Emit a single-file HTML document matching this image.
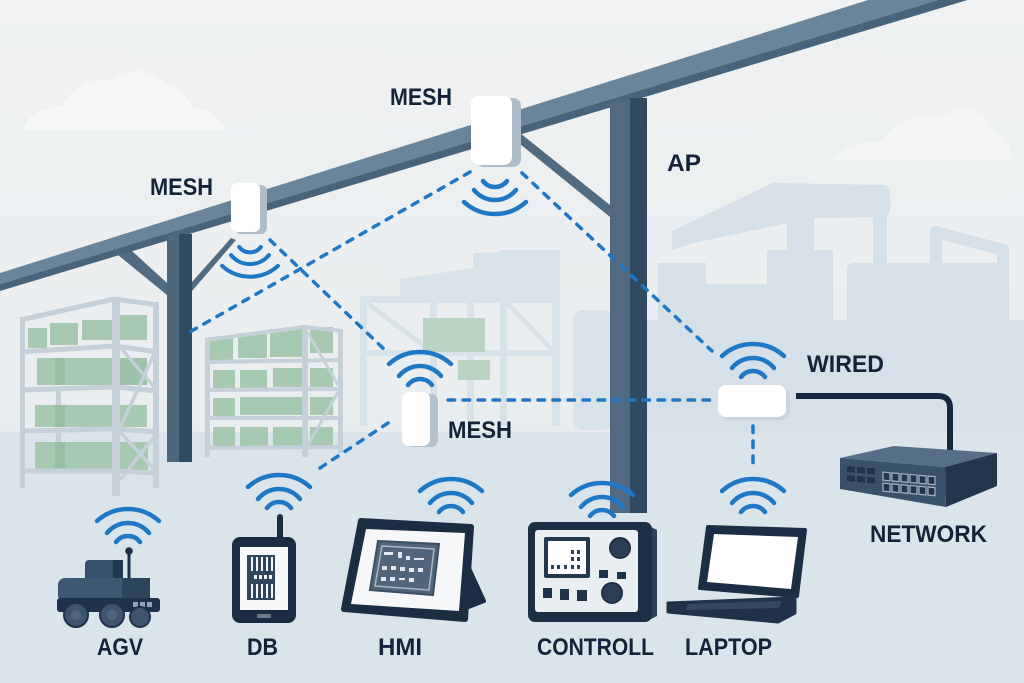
<!DOCTYPE html>
<html><head><meta charset="utf-8"><style>
html,body{margin:0;padding:0;background:#eef0f1;overflow:hidden;}
svg{display:block;}
text{font-family:"Liberation Sans",Arial,sans-serif;font-weight:bold;fill:#13243a;font-size:24px;}
</style></head><body>
<svg width="1024" height="683" viewBox="0 0 1024 683" xmlns="http://www.w3.org/2000/svg">
<defs>
<linearGradient id="bg" x1="0" y1="0" x2="0" y2="1">
 <stop offset="0" stop-color="#eff1f2"/>
 <stop offset="0.55" stop-color="#eaeef0"/>
 <stop offset="1" stop-color="#dde6ec"/>
</linearGradient>
<linearGradient id="fl" x1="0" y1="0" x2="0" y2="1">
 <stop offset="0" stop-color="#dbe4eb"/>
 <stop offset="1" stop-color="#d9e4eb"/>
</linearGradient>
<g id="wu" fill="none" stroke="#1e78c6" stroke-width="4.5" stroke-linecap="round">
 <path d="M-31,14 A46,46 0 0 1 31,14"/>
 <path d="M-21,26 A27,27 0 0 1 21,26"/>
 <path d="M-12,35 A15,15 0 0 1 12,35"/>
</g>
<g id="wd" fill="none" stroke="#1e78c6" stroke-width="4.5" stroke-linecap="round">
 <path d="M-12,0 A15,15 0 0 0 12,0"/>
 <path d="M-21,9 A27,27 0 0 0 21,9"/>
 <path d="M-31,21 A46,46 0 0 0 31,21"/>
</g>
</defs>

<!-- background -->
<rect width="1024" height="683" fill="url(#bg)"/>
<!-- clouds -->
<path d="M23,130 Q28,110 62,106 Q78,76 112,80 Q140,60 166,84 Q186,90 192,108 Q212,106 227,130 Z" fill="#f5f6f7"/>
<path d="M833,160 Q850,140 880,142 Q902,112 940,118 Q975,96 992,128 Q1008,134 1013,160 Z" fill="#f3f4f5"/>

<!-- right factory silhouette -->
<g fill="#d6e0e8">
 <path d="M672,250 L672,231 L773,183 L886,185 Q892,190 890,210 L887,217 L813,218 L693,243 Z"/>
 <rect x="787" y="210" width="27" height="140"/>
 <rect x="873" y="198" width="14" height="72"/>
 <rect x="658" y="263" width="48" height="180"/>
 <rect x="700" y="284" width="70" height="160"/>
 <rect x="767" y="250" width="66" height="190"/>
 <rect x="847" y="263" width="160" height="180" rx="6"/>
 <rect x="640" y="320" width="384" height="130"/>
</g>
<path d="M936,300 V232 L1003,250 V340" fill="none" stroke="#d6e0e8" stroke-width="12" stroke-linejoin="round"/>

<!-- middle far structure -->
<g fill="#d8e2e9">
 <path d="M400,279 L473,268 L473,253 L517,252 L520,266 L560,266 L560,302 L400,302 Z"/>
 <rect x="360" y="296" width="7" height="130"/>
 <rect x="430" y="296" width="7" height="130"/>
 <rect x="467" y="296" width="7" height="130"/>
 <rect x="500" y="296" width="7" height="130"/>
 <rect x="552" y="296" width="8" height="130"/>
 <rect x="360" y="296" width="200" height="7"/>
 <rect x="360" y="350" width="200" height="6"/>
 <rect x="573" y="310" width="40" height="120" rx="10"/>
 <rect x="500" y="250" width="60" height="20"/>
</g>
<g stroke="#d8e2e9" stroke-width="5">
 <line x1="367" y1="303" x2="430" y2="350"/>
 <line x1="507" y1="303" x2="552" y2="350"/>
</g>
<g fill="#b9d4c3">
 <rect x="423" y="318" width="62" height="34"/>
 <rect x="458" y="360" width="32" height="20"/>
</g>

<!-- floor -->
<rect x="0" y="432" width="1024" height="251" fill="url(#fl)"/>

<!-- left shelf -->
<g>
 <g fill="#a7c9b2">
  <rect x="28" y="328" width="19" height="20"/>
  <rect x="50" y="323" width="28" height="22"/>
  <rect x="82" y="320" width="30" height="20"/>
  <rect x="120" y="315" width="27" height="25"/>
  <rect x="37" y="358" width="110" height="27"/>
  <rect x="35" y="405" width="112" height="22"/>
  <rect x="35" y="442" width="113" height="30"/>
 </g>
 <g fill="#97bea3">
  <rect x="55" y="358" width="10" height="27"/>
  <rect x="55" y="405" width="10" height="22"/>
  <rect x="55" y="442" width="10" height="30"/>
  <rect x="120" y="358" width="27" height="27" opacity="0.6"/>
 </g>
 <g fill="#c6d0d9">
  <rect x="20" y="318" width="5" height="170"/>
  <rect x="112" y="297" width="8" height="199"/>
  <rect x="153" y="302" width="6" height="186"/>
 </g>
 <g stroke="#c6d0d9" stroke-width="5" fill="none">
  <path d="M20,320 L114,299 L158,305"/>
  <path d="M20,352 L114,346 L158,352"/>
  <path d="M20,390 L114,387 L158,391"/>
  <path d="M20,431 L114,429 L158,432"/>
  <path d="M20,471 L114,471 L158,473"/>
  <path d="M120,347 L155,388 M155,352 L120,428 M120,432 L155,470 M155,436 L120,480" stroke-width="3.5"/>
 </g>
 <g fill="#c6d0d9">
  <rect x="56" y="390" width="5" height="15"/>
  <rect x="56" y="430" width="5" height="12"/>
 </g>
</g>

<!-- middle shelf -->
<g>
 <g fill="#a7c9b2">
  <rect x="210" y="337" width="23" height="23"/>
  <rect x="238" y="333" width="29" height="25"/>
  <rect x="270" y="329" width="32" height="28"/>
  <rect x="310" y="327" width="23" height="26"/>
  <rect x="213" y="370" width="22" height="18"/>
  <rect x="240" y="370" width="27" height="18"/>
  <rect x="273" y="368" width="29" height="19"/>
  <rect x="310" y="368" width="23" height="19"/>
  <rect x="213" y="398" width="22" height="19"/>
  <rect x="240" y="397" width="62" height="18"/>
  <rect x="310" y="397" width="23" height="18"/>
  <rect x="213" y="427" width="22" height="20"/>
  <rect x="240" y="427" width="28" height="20"/>
  <rect x="273" y="427" width="29" height="20"/>
  <rect x="310" y="427" width="23" height="20"/>
 </g>
 <g fill="#c6d0d9">
  <rect x="205" y="339" width="5" height="118"/>
  <rect x="302" y="327" width="6" height="130"/>
  <rect x="338" y="330" width="5" height="123"/>
 </g>
 <g stroke="#c6d0d9" stroke-width="4" fill="none">
  <path d="M205,340 L304,327 L343,331"/>
  <path d="M205,362 L343,360"/>
  <path d="M205,390 L343,389"/>
  <path d="M205,418 L343,418"/>
  <path d="M205,448 L343,447"/>
  <path d="M308,333 L338,385 M338,392 L308,445" stroke-width="3"/>
 </g>
</g>

<!-- beam -->
<polygon points="0,273 1024,-49 1024,-26 0,284" fill="#6a8599"/>
<polygon points="0,284 1024,-26 1024,-17 0,291" fill="#48637a"/>

<!-- left column + braces -->
<polygon points="118,255 132,251 167,283 167,295" fill="#516b80"/>
<polygon points="192,282 231,238 236,240 192,291" fill="#516b80"/>
<rect x="167" y="234" width="12" height="228" fill="#4d677d"/>
<rect x="179" y="234" width="13" height="228" fill="#2f4a61"/>

<!-- middle column + brace -->
<polygon points="520,133 610,205 610,217 520,144" fill="#516b80"/>
<rect x="610" y="102" width="20" height="411" fill="#52697f"/>
<rect x="630" y="98" width="17" height="415" fill="#2f4a61"/>

<!-- dashed links -->
<g stroke="#1f78c6" stroke-width="3.5" stroke-linecap="round" stroke-dasharray="6.5 8.5" fill="none">
 <line x1="470" y1="172" x2="188" y2="333"/>
 <line x1="270" y1="240" x2="386" y2="351"/>
 <line x1="522" y1="173" x2="712" y2="351"/>
 <line x1="448" y1="400" x2="712" y2="400"/>
 <line x1="388" y1="423" x2="317" y2="470"/>
 <line x1="753" y1="426" x2="753" y2="468"/>
</g>

<!-- mesh devices -->
<rect x="235" y="185" width="32" height="49" rx="6" fill="#aebdca"/>
<rect x="231" y="183" width="29" height="49" rx="6" fill="#ffffff"/>
<rect x="476" y="98" width="45" height="69" rx="8" fill="#aebdca"/>
<rect x="471" y="96" width="41" height="69" rx="8" fill="#ffffff"/>
<rect x="405" y="394" width="33" height="53" rx="7" fill="#b4c2ce"/>
<rect x="402" y="392" width="28" height="54" rx="7" fill="#ffffff"/>
<rect x="721" y="388" width="69" height="32" rx="8" fill="#c9d4dd"/>
<rect x="718" y="385" width="68" height="32" rx="8" fill="#ffffff"/>

<!-- cable -->
<path d="M796,396 H938 Q950,396 950,408 V452" fill="none" stroke="#15283d" stroke-width="6"/>

<!-- switch -->
<polygon points="840,458 894,446 997,453 945,467" fill="#566f86"/>
<polygon points="840,458 945,467 946,507 840,489" fill="#3a5269"/>
<polygon points="945,467 997,453 997,486 946,507" fill="#22374c"/>
<g transform="translate(847,466) skewY(5)" >
 <g fill="#1f3247">
  <rect x="0" y="0" width="8" height="6"/><rect x="10" y="0" width="8" height="6"/><rect x="20" y="0" width="8" height="6"/>
  <rect x="0" y="9" width="8" height="6"/><rect x="10" y="9" width="8" height="6"/><rect x="20" y="9" width="8" height="6"/>
 </g>
 <g fill="#22364b" stroke="#a5b5c4" stroke-width="1.2">
  <rect x="36" y="3" width="7" height="8"/><rect x="45" y="3" width="7" height="8"/><rect x="54" y="3" width="7" height="8"/><rect x="63" y="3" width="7" height="8"/><rect x="72" y="3" width="7" height="8"/><rect x="81" y="3" width="7" height="8"/>
  <rect x="36" y="14" width="7" height="8"/><rect x="45" y="14" width="7" height="8"/><rect x="54" y="14" width="7" height="8"/><rect x="63" y="14" width="7" height="8"/><rect x="72" y="14" width="7" height="8"/><rect x="81" y="14" width="7" height="8"/>
 </g>
</g>

<!-- wifi icons -->
<use href="#wd" transform="translate(250,247) scale(0.9)"/>
<use href="#wd" transform="translate(495,181)"/>
<use href="#wu" transform="translate(420,350)"/>
<use href="#wu" transform="translate(753,342)"/>
<use href="#wu" transform="translate(128,507)"/>
<use href="#wu" transform="translate(279,473)"/>
<use href="#wu" transform="translate(451,477)"/>
<use href="#wu" transform="translate(602,481)"/>
<use href="#wu" transform="translate(753,477)"/>

<!-- AGV -->
<g>
 <line x1="129" y1="552" x2="129" y2="582" stroke="#1c2f44" stroke-width="3"/>
 <circle cx="129" cy="551" r="3.8" fill="#1c2f44"/>
 <rect x="85" y="560" width="38" height="24" rx="4" fill="#34506a"/>
 <rect x="113" y="560" width="10" height="24" fill="#22384f"/>
 <rect x="58" y="578" width="92" height="24" rx="7" fill="#3d5870"/>
 <rect x="122" y="578" width="28" height="24" fill="#2c445c"/>
 <rect x="57" y="598" width="103" height="14" rx="3" fill="#1e3349"/>
 <rect x="133" y="602" width="5" height="5" fill="#8fa5b9"/>
 <rect x="140" y="602" width="5" height="5" fill="#8fa5b9"/>
 <rect x="147" y="602" width="5" height="5" fill="#8fa5b9"/>
 <circle cx="76" cy="615" r="12" fill="#3f556b" stroke="#1e3349" stroke-width="2"/>
 <circle cx="76" cy="615" r="5" fill="#4f667c"/>
 <circle cx="112" cy="615" r="12" fill="#3f556b" stroke="#1e3349" stroke-width="2"/>
 <circle cx="112" cy="615" r="5" fill="#4f667c"/>
 <circle cx="140" cy="617" r="10" fill="#3f556b" stroke="#1e3349" stroke-width="2"/>
</g>

<!-- DB handheld -->
<g>
 <rect x="277" y="514" width="6" height="28" rx="3" fill="#1b2d43"/>
 <rect x="232" y="537" width="64" height="86" rx="8" fill="#1b2d43"/>
 <rect x="240" y="547" width="48" height="63" fill="#f5f7f9"/>
 <rect x="247" y="555" width="28" height="45" fill="#2f465e"/>
 <g fill="#f5f7f9">
  <rect x="251" y="557" width="2" height="14"/><rect x="256" y="557" width="2" height="14"/><rect x="261" y="557" width="2" height="14"/><rect x="266" y="557" width="2" height="14"/><rect x="271" y="557" width="2" height="14"/>
  <rect x="251" y="584" width="2" height="14"/><rect x="256" y="584" width="2" height="14"/><rect x="261" y="584" width="2" height="14"/><rect x="266" y="584" width="2" height="14"/><rect x="271" y="584" width="2" height="14"/>
  <rect x="254" y="575" width="3" height="4"/><rect x="259" y="575" width="3" height="4"/><rect x="264" y="575" width="3" height="4"/><rect x="269" y="575" width="3" height="4"/>
 </g>
 <rect x="257" y="614" width="14" height="4" rx="2" fill="#6a7e92"/>
</g>

<!-- HMI tablet -->
<g>
 <polygon points="462,553 484,601 466,608" fill="#1b2d43" stroke="#1b2d43" stroke-width="4" stroke-linejoin="round"/>
 <polygon points="361,521 471,527 465,619 344,609" fill="#1b2d43" stroke="#1b2d43" stroke-width="6" stroke-linejoin="round"/>
 <polygon points="366,529 465,533 459,611 351,604" fill="#f5f7f9"/>
 <polygon points="378,541 439,544 433,595 370,590" fill="#52667b" stroke="#3b4f64" stroke-width="2"/>
 <polygon points="382,546 434,549 429,590 375,586" fill="none" stroke="#a9b7c5" stroke-width="1.5"/>
 <g fill="#e2e8ee">
  <rect x="384" y="552" width="9" height="3"/><rect x="398" y="552" width="4" height="6"/><rect x="406" y="556" width="4" height="4"/><rect x="414" y="558" width="10" height="2"/>
  <rect x="382" y="566" width="5" height="4"/><rect x="391" y="566" width="5" height="4"/><rect x="400" y="567" width="5" height="4"/><rect x="409" y="568" width="5" height="4"/><rect x="418" y="568" width="5" height="4"/>
  <rect x="381" y="577" width="5" height="4"/><rect x="390" y="577" width="5" height="4"/><rect x="399" y="578" width="6" height="2"/><rect x="409" y="578" width="5" height="4"/>
 </g>
</g>

<!-- controller -->
<g>
 <polygon points="645,524 657,530 657,616 645,622" fill="#2c4258"/>
 <rect x="528" y="522" width="124" height="100" rx="7" fill="#1c2f45"/>
 <rect x="535" y="530" width="103" height="82" rx="3" fill="#e9eef2"/>
 <rect x="544" y="537" width="46" height="41" rx="2" fill="#23384e"/>
 <rect x="548" y="541" width="38" height="33" fill="#ffffff"/>
 <g fill="#2b4158">
  <rect x="571" y="550" width="3" height="4"/><rect x="577" y="550" width="3" height="4"/>
  <rect x="571" y="557" width="3" height="4"/><rect x="577" y="557" width="3" height="4"/>
  <rect x="551" y="565" width="3" height="4"/><rect x="557" y="565" width="3" height="4"/><rect x="564" y="565" width="3" height="4"/><rect x="571" y="565" width="3" height="4"/><rect x="577" y="565" width="3" height="4"/>
 </g>
 <circle cx="620" cy="548" r="10" fill="#2a3f55" stroke="#1c2f45" stroke-width="2"/>
 <circle cx="612" cy="593" r="10" fill="#2a3f55" stroke="#1c2f45" stroke-width="2"/>
 <rect x="599" y="570" width="9" height="8" fill="#1f334a"/>
 <rect x="617" y="572" width="9" height="7" fill="#1f334a"/>
 <rect x="543" y="588" width="9" height="10" fill="#1f334a"/>
 <rect x="560" y="589" width="9" height="11" fill="#1f334a"/>
 <rect x="577" y="590" width="10" height="11" fill="#1f334a"/>
</g>

<!-- laptop -->
<g>
 <polygon points="708,527 805,530 797,596 700,588" fill="#1b2e44" stroke="#1b2e44" stroke-width="4" stroke-linejoin="round"/>
 <polygon points="714,534 798,537 791,589 707,582" fill="#ffffff"/>
 <polygon points="668,603 795,598 795,613 778,622 668,612" fill="#1f3248" stroke="#1f3248" stroke-width="3" stroke-linejoin="round"/>
 <polygon points="688,604 782,601 779,608 686,610" fill="#34495f"/>
</g>

<!-- labels -->
<text x="150" y="195" textLength="63" lengthAdjust="spacingAndGlyphs">MESH</text>
<text x="390" y="105" textLength="62" lengthAdjust="spacingAndGlyphs">MESH</text>
<text x="667" y="171" textLength="34" lengthAdjust="spacingAndGlyphs">AP</text>
<text x="807" y="372" textLength="77" lengthAdjust="spacingAndGlyphs">WIRED</text>
<text x="448" y="438" textLength="64" lengthAdjust="spacingAndGlyphs">MESH</text>
<text x="870" y="542" textLength="117" lengthAdjust="spacingAndGlyphs">NETWORK</text>
<text x="97" y="655" textLength="46" lengthAdjust="spacingAndGlyphs">AGV</text>
<text x="247" y="655" textLength="31" lengthAdjust="spacingAndGlyphs">DB</text>
<text x="378" y="655" textLength="44" lengthAdjust="spacingAndGlyphs">HMI</text>
<text x="537" y="655" textLength="117" lengthAdjust="spacingAndGlyphs">CONTROLL</text>
<text x="685" y="655" textLength="87" lengthAdjust="spacingAndGlyphs">LAPTOP</text>
</svg>
</body></html>
